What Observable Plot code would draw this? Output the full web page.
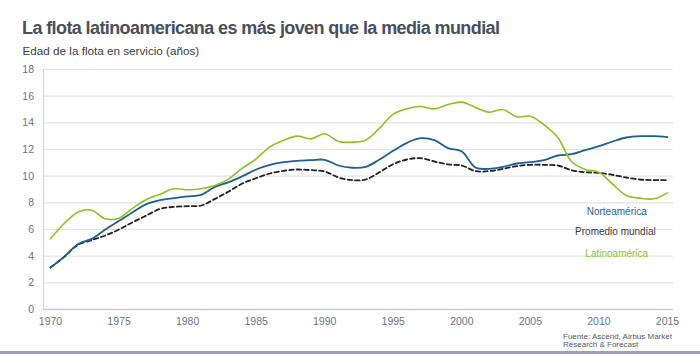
<!DOCTYPE html>
<html>
<head>
<meta charset="utf-8">
<script src="https://cdn.jsdelivr.net/npm/d3@7"></script>
<script src="https://cdn.jsdelivr.net/npm/@observablehq/plot@0.6"></script>
<style>
  html, body { margin: 0; padding: 0; background: #fff; }
  #wrap { position: relative; width: 700px; height: 354px; overflow: hidden; background: #fff; font-family: "Liberation Sans", Arial, Helvetica, sans-serif; }
  #title { position: absolute; left: 22px; top: 19px; font-size: 18px; line-height: 18px; font-weight: bold; letter-spacing: -0.6px; color: #4a4f5b; white-space: nowrap; }
  #subtitle { position: absolute; left: 22.5px; top: 45px; font-size: 11.7px; line-height: 11.7px; color: #3c3c3c; white-space: nowrap; }
  #chart { position: absolute; left: 0; top: 60px; }
  #source { position: absolute; left: 563px; top: 332.5px; font-size: 8px; line-height: 8.8px; color: #555b66; white-space: nowrap; }
  #bar { position: absolute; left: 0; top: 351px; width: 700px; height: 3px; background: #98a2b3; }
</style>
</head>
<body>
<div id="wrap">
  <div id="title">La flota latinoamericana es más joven que la media mundial</div>
  <div id="subtitle">Edad de la flota en servicio (años)</div>
  <div id="chart"></div>
  <div id="source">Fuente: Ascend, Airbus Market<br>Research &amp; Forecast</div>
  <div id="bar"></div>
</div>
<script>
const years = [1970,1971,1972,1973,1974,1975,1976,1977,1978,1979,
  1980,1981,1982,1983,1984,1985,1986,1987,1988,1989,
  1990,1991,1992,1993,1994,1995,1996,1997,1998,1999,
  2000,2001,2002,2003,2004,2005,2006,2007,2008,2009,
  2010,2011,2012,2013,2014,2015];

const latinoamerica = [5.3,6.45,7.3,7.45,6.8,6.85,7.6,8.25,8.65,9.05,
  8.98,9.05,9.3,9.8,10.6,11.3,12.2,12.7,13.0,12.8,
  13.18,12.6,12.55,12.7,13.6,14.65,15.05,15.23,15.05,15.38,
  15.55,15.15,14.8,15.0,14.45,14.5,13.85,12.9,11.1,10.5,
  10.3,9.4,8.55,8.35,8.3,8.75];

const norteamerica = [3.15,3.95,4.9,5.3,6.0,6.65,7.3,7.9,8.2,8.35,
  8.48,8.6,9.2,9.55,10.0,10.5,10.85,11.05,11.15,11.2,
  11.23,10.8,10.63,10.7,11.25,11.9,12.5,12.85,12.7,12.1,
  11.85,10.65,10.55,10.7,10.95,11.05,11.2,11.55,11.65,11.95,
  12.25,12.6,12.9,13.0,13.0,12.93];

const promedioMundial = [3.15,3.95,4.85,5.2,5.55,6.0,6.55,7.05,7.55,7.7,
  7.75,7.8,8.3,8.85,9.45,9.85,10.2,10.4,10.5,10.45,
  10.35,9.9,9.7,9.75,10.3,10.9,11.25,11.35,11.1,10.88,
  10.8,10.38,10.38,10.55,10.75,10.85,10.85,10.8,10.45,10.3,
  10.25,10.1,9.9,9.75,9.7,9.7];

const seriesNames = ["Norteamérica", "Promedio mundial", "Latinoamérica"];
const xTicks = [1970,1975,1980,1985,1990,1995,2000,2005,2010,2015];
const yTicks = [0,2,4,6,8,10,12,14,16,18];

// label anchor points in data coordinates (year, age)
const labelYears = [2011.3, 2011.2, 2011.3];
const labelValues = [7.3, 5.8, 4.2];

const colors = {"Norteamérica": "#1d5e98", "Promedio mundial": "#222222", "Latinoamérica": "#8cc21c"};
const labelColors = {"Norteamérica": "#1d5e98", "Promedio mundial": "#3a3a3a", "Latinoamérica": "#8cc21c"};

const toRows = (vals, name) => years.map((y, i) => ({year: y, value: vals[i], series: name}));
const rowsNA = toRows(norteamerica, "Norteamérica");
const rowsPM = toRows(promedioMundial, "Promedio mundial");
const rowsLA = toRows(latinoamerica, "Latinoamérica");
const labels = seriesNames.map((s, i) => ({name: s, year: labelYears[i], value: labelValues[i]}));

const xMin = 1969.49, xMax = 2015.44;

const chart = Plot.plot({
  width: 700,
  height: 294,
  marginTop: 9,
  marginBottom: 45,
  marginLeft: 43,
  marginRight: 27,
  style: {fontFamily: '"Liberation Sans", Arial, Helvetica, sans-serif', fontSize: "10.5px", color: "#6b7386", background: "transparent"},
  x: {domain: [xMin, xMax], label: null},
  y: {domain: [0, 18], label: null},
  marks: [
    Plot.gridY(yTicks, {stroke: "#e3e4e6", strokeOpacity: 1, strokeWidth: 1.2}),
    Plot.ruleX([xMin], {stroke: "#d3d6dc", strokeWidth: 1.2}),
    Plot.ruleY([0], {stroke: "#c9ccd3", strokeWidth: 1.4}),
    Plot.axisX(xTicks, {tickSize: 0, tickPadding: 8, tickFormat: d => String(d), fill: "#6b7386", fontSize: 10.5}),
    Plot.axisY(yTicks, {tickSize: 0, tickPadding: 9.5, fill: "#6b7386", fontSize: 10.5}),
    Plot.line(rowsPM, {x: "year", y: "value", stroke: colors["Promedio mundial"], strokeWidth: 1.8, strokeDasharray: "4.5,3", curve: "catmull-rom"}),
    Plot.line(rowsNA, {x: "year", y: "value", stroke: colors["Norteamérica"], strokeWidth: 1.8, curve: "catmull-rom"}),
    Plot.line(rowsLA, {x: "year", y: "value", stroke: colors["Latinoamérica"], strokeWidth: 1.6, curve: "catmull-rom"}),
    Plot.text(labels, {x: "year", y: "value", text: "name", fill: d => labelColors[d.name], fontSize: 10, textAnchor: "middle", lineAnchor: "middle"})
  ]
});
document.getElementById("chart").appendChild(chart);
</script>
</body>
</html>
